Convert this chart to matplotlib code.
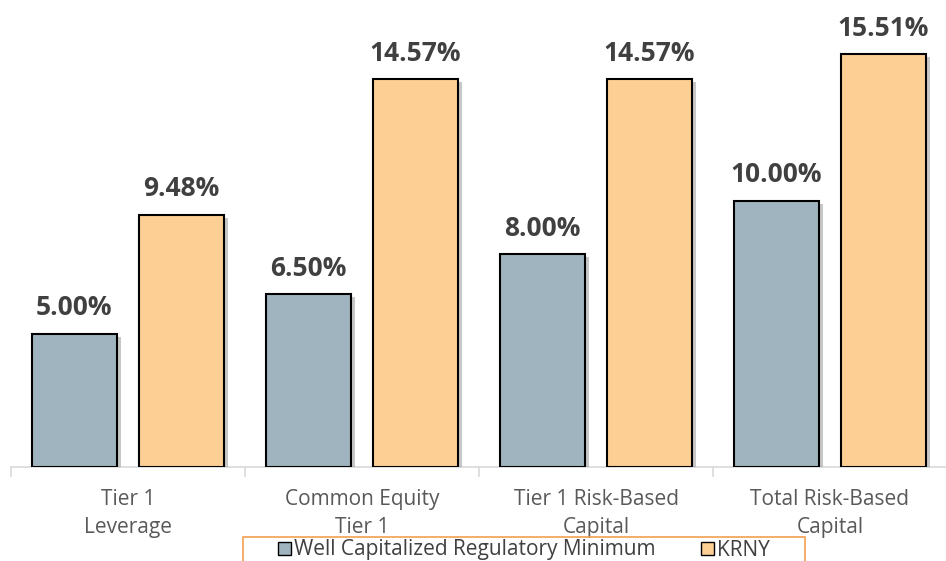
import matplotlib
matplotlib.use("Agg")
import matplotlib.pyplot as plt
import matplotlib.patheffects as pe
from matplotlib.patches import Patch, Rectangle
import numpy as np

plt.rcParams['font.family'] = ['Open Sans', 'DejaVu Sans']

categories = ["Tier 1\nLeverage", "Common Equity\nTier 1", "Tier 1 Risk-Based\nCapital", "Total Risk-Based\nCapital"]
well_cap = [5.00, 6.50, 8.00, 10.00]
krny = [9.48, 14.57, 14.57, 15.51]
series_names = ["Well Capitalized Regulatory Minimum", "KRNY"]
colors = ["#9FB4BE", "#FDCF95"]

fig = plt.figure(figsize=(9.46, 5.61), dpi=100)
ax = fig.add_axes([11 / 946, 1 - 467 / 561, 936 / 946, 467 / 561])

x = np.arange(len(categories))
w = 0.365
off = 0.229
shadow = [pe.SimplePatchShadow(offset=(3, -2), shadow_rgbFace="#909090", alpha=0.5), pe.Normal()]

for vals, dx, c in [(well_cap, -off, colors[0]), (krny, off, colors[1])]:
    bars = ax.bar(x + dx, vals, width=w, color=c, edgecolor="black", linewidth=1.5, zorder=3)
    for b in bars:
        b.set_path_effects(shadow)
    for xi, v in zip(x + dx, vals):
        ax.annotate(f"{v:.2f}%", (xi, v), xytext=(0, 9), textcoords="offset points",
                    ha="center", va="bottom", fontsize=19, fontweight="bold", color="#404040")

ax.set_xlim(-0.5, 3.5)
ax.set_ylim(0, 17.55)
for s in ["top", "right", "left"]:
    ax.spines[s].set_visible(False)
ax.spines["bottom"].set_color("#D9D9D9")
ax.spines["bottom"].set_linewidth(1.2)
ax.set_yticks([])
ax.set_xticks(x)
ax.set_xticklabels(categories, fontsize=15, color="#595959", linespacing=1.45)
ax.tick_params(axis="x", which="major", length=0, pad=16)
ax.set_xticks(np.arange(-0.5, 4, 1), minor=True)
ax.tick_params(axis="x", which="minor", length=7, color="#D9D9D9", width=1.2)

# legend without its own frame, box drawn separately (wider than the entries)
handles = [Patch(facecolor=colors[0], edgecolor="black"), Patch(facecolor=colors[1], edgecolor="black")]
leg = fig.legend(handles, series_names, loc="center", bbox_to_anchor=(524 / 946, 1 - 550 / 561),
                 borderaxespad=0, ncol=2, fontsize=15, frameon=False,
                 handlelength=0.6, handleheight=0.6, handletextpad=0.15, columnspacing=2.2,
                 borderpad=0.0, labelcolor="#404040")
fig.patches.append(Rectangle((243 / 946, -0.05), 562 / 946, 0.05 + 24 / 561, transform=fig.transFigure,
                             fill=False, edgecolor="#F0A050", linewidth=1.2))

fig.savefig("out.png", dpi=100)
